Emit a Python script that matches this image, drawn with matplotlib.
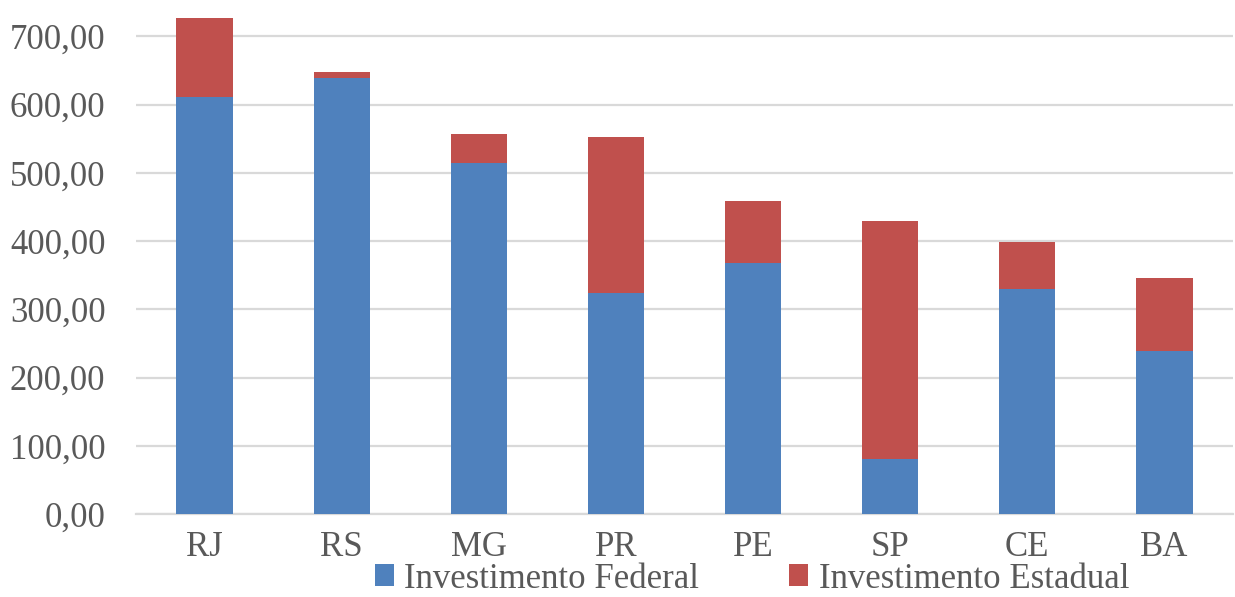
import matplotlib.pyplot as plt
from matplotlib.ticker import FuncFormatter

# Investimento por estado (federal + estadual)
estados = ['RJ', 'RS', 'MG', 'PR', 'PE', 'SP', 'CE', 'BA']
federal = [611.0, 638.4, 513.9, 323.6, 367.6, 80.6, 329.5, 238.6]
total = [727.3, 648.5, 556.7, 552.3, 458.5, 429.2, 398.8, 345.6]
estadual = [t - f for t, f in zip(total, federal)]

azul = '#4F81BD'
vermelho = '#C0504D'
cinza = '#595959'

plt.rcParams['font.family'] = ['Liberation Serif', 'DejaVu Serif']

fig = plt.figure(figsize=(12.35, 5.97), dpi=100)
ax = fig.add_axes([136 / 1235, 83 / 597, (1233 - 136) / 1235, 511 / 597])

x = range(len(estados))
ax.bar(x, federal, width=0.41, color=azul, label='Investimento Federal', zorder=3)
ax.bar(x, estadual, width=0.41, bottom=federal, color=vermelho,
       label='Investimento Estadual', zorder=3)

ax.set_xlim(-0.5, len(estados) - 0.5)
ax.set_ylim(0, 749)
ax.set_yticks(range(0, 701, 100))
ax.yaxis.set_major_formatter(FuncFormatter(lambda v, p: f'{v:.2f}'.replace('.', ',')))
ax.set_xticks(list(x))
ax.set_xticklabels(estados)

ax.grid(axis='y', color='#D9D9D9', linewidth=1.6, zorder=0)
for lado in ['top', 'right', 'left']:
    ax.spines[lado].set_visible(False)
ax.spines['bottom'].set_color('#D9D9D9')
ax.spines['bottom'].set_linewidth(1.6)

ax.tick_params(axis='both', length=0, labelsize=25, colors=cinza)
ax.tick_params(axis='x', pad=12)
ax.tick_params(axis='y', pad=22)

leg = fig.legend(loc='center', bbox_to_anchor=(752 / 1235, 18 / 597), ncol=2,
                 frameon=False, fontsize=25, handlelength=0.55, handleheight=0.6,
                 handletextpad=0.3, columnspacing=2.6, borderaxespad=0)
for t in leg.get_texts():
    t.set_color(cinza)

fig.savefig('out.png', dpi=100)
